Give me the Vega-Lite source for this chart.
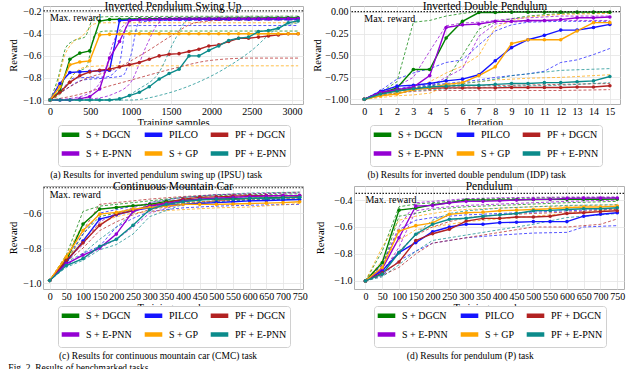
{
"$schema":"https://vega.github.io/schema/vega-lite/v6.json",
"padding":{"left":8,"top":0,"right":0,"bottom":0},
"background":"white",
"config":{
"font":"Liberation Serif",
"view":{"stroke":"#b0b0b0","strokeWidth":1},
"axis":{"labelFont":"Liberation Serif","labelFontSize":10,"titleFont":"Liberation Serif","titleFontSize":10.5,"titleFontWeight":"normal","ticks":false,"tickSize":0,"domain":false,"gridColor":"#e4e4e4","gridWidth":0.8,"labelColor":"#000","titleColor":"#000","labelPadding":2,"titlePadding":4,"labelOverlap":false,"labelFlush":false},
"title":{"font":"Liberation Serif","fontSize":11.5,"fontWeight":"normal","offset":-6,"color":"#000"},
"legend":{"labelFont":"Liberation Serif","labelFontSize":10,"labelColor":"#000","strokeColor":"#d0d0d0","fillColor":"white","cornerRadius":3,"padding":3,"columnPadding":3,"rowPadding":0,"gridAlign":"each","offset":0}
},
"datasets":{
"ipsu":[
{"m":"S + DGCN","s":"a","x":0,"y":-1},{"m":"S + DGCN","s":"a","x":123,"y":-0.92},{"m":"S + DGCN","s":"a","x":246,"y":-0.63},{"m":"S + DGCN","s":"a","x":369,"y":-0.575},{"m":"S + DGCN","s":"a","x":492,"y":-0.555},{"m":"S + DGCN","s":"a","x":615,"y":-0.285},{"m":"S + DGCN","s":"a","x":738,"y":-0.27},{"m":"S + DGCN","s":"a","x":861,"y":-0.268},{"m":"S + DGCN","s":"a","x":984,"y":-0.266},{"m":"S + DGCN","s":"a","x":1107,"y":-0.265},{"m":"S + DGCN","s":"a","x":1230,"y":-0.264},{"m":"S + DGCN","s":"a","x":1353,"y":-0.263},{"m":"S + DGCN","s":"a","x":1476,"y":-0.262},{"m":"S + DGCN","s":"a","x":1599,"y":-0.262},{"m":"S + DGCN","s":"a","x":1722,"y":-0.261},{"m":"S + DGCN","s":"a","x":1845,"y":-0.261},{"m":"S + DGCN","s":"a","x":1968,"y":-0.26},{"m":"S + DGCN","s":"a","x":2091,"y":-0.26},{"m":"S + DGCN","s":"a","x":2214,"y":-0.259},{"m":"S + DGCN","s":"a","x":2337,"y":-0.259},{"m":"S + DGCN","s":"a","x":2460,"y":-0.258},{"m":"S + DGCN","s":"a","x":2583,"y":-0.258},{"m":"S + DGCN","s":"a","x":2706,"y":-0.257},{"m":"S + DGCN","s":"a","x":2829,"y":-0.257},{"m":"S + DGCN","s":"a","x":2952,"y":-0.256},{"m":"S + DGCN","s":"a","x":3075,"y":-0.256},
{"m":"PILCO","s":"a","x":0,"y":-1},{"m":"PILCO","s":"a","x":123,"y":-0.85},{"m":"PILCO","s":"a","x":246,"y":-0.75},{"m":"PILCO","s":"a","x":369,"y":-0.745},{"m":"PILCO","s":"a","x":492,"y":-0.74},{"m":"PILCO","s":"a","x":615,"y":-0.735},{"m":"PILCO","s":"a","x":738,"y":-0.73},{"m":"PILCO","s":"a","x":861,"y":-0.28},{"m":"PILCO","s":"a","x":984,"y":-0.275},{"m":"PILCO","s":"a","x":1107,"y":-0.273},{"m":"PILCO","s":"a","x":1230,"y":-0.272},{"m":"PILCO","s":"a","x":1353,"y":-0.271},{"m":"PILCO","s":"a","x":1476,"y":-0.27},{"m":"PILCO","s":"a","x":1599,"y":-0.27},{"m":"PILCO","s":"a","x":1722,"y":-0.269},{"m":"PILCO","s":"a","x":1845,"y":-0.269},{"m":"PILCO","s":"a","x":1968,"y":-0.268},{"m":"PILCO","s":"a","x":2091,"y":-0.268},{"m":"PILCO","s":"a","x":2214,"y":-0.268},{"m":"PILCO","s":"a","x":2337,"y":-0.267},{"m":"PILCO","s":"a","x":2460,"y":-0.267},{"m":"PILCO","s":"a","x":2583,"y":-0.267},{"m":"PILCO","s":"a","x":2706,"y":-0.266},{"m":"PILCO","s":"a","x":2829,"y":-0.266},{"m":"PILCO","s":"a","x":2952,"y":-0.266},{"m":"PILCO","s":"a","x":3075,"y":-0.266},
{"m":"PF + DGCN","s":"a","x":0,"y":-1},{"m":"PF + DGCN","s":"a","x":123,"y":-0.93},{"m":"PF + DGCN","s":"a","x":246,"y":-0.84},{"m":"PF + DGCN","s":"a","x":369,"y":-0.78},{"m":"PF + DGCN","s":"a","x":492,"y":-0.745},{"m":"PF + DGCN","s":"a","x":615,"y":-0.73},{"m":"PF + DGCN","s":"a","x":738,"y":-0.72},{"m":"PF + DGCN","s":"a","x":861,"y":-0.7},{"m":"PF + DGCN","s":"a","x":984,"y":-0.68},{"m":"PF + DGCN","s":"a","x":1107,"y":-0.66},{"m":"PF + DGCN","s":"a","x":1230,"y":-0.63},{"m":"PF + DGCN","s":"a","x":1353,"y":-0.6},{"m":"PF + DGCN","s":"a","x":1476,"y":-0.585},{"m":"PF + DGCN","s":"a","x":1599,"y":-0.58},{"m":"PF + DGCN","s":"a","x":1722,"y":-0.56},{"m":"PF + DGCN","s":"a","x":1845,"y":-0.54},{"m":"PF + DGCN","s":"a","x":1968,"y":-0.51},{"m":"PF + DGCN","s":"a","x":2091,"y":-0.5},{"m":"PF + DGCN","s":"a","x":2214,"y":-0.47},{"m":"PF + DGCN","s":"a","x":2337,"y":-0.44},{"m":"PF + DGCN","s":"a","x":2460,"y":-0.44},{"m":"PF + DGCN","s":"a","x":2583,"y":-0.43},{"m":"PF + DGCN","s":"a","x":2706,"y":-0.42},{"m":"PF + DGCN","s":"a","x":2829,"y":-0.41},{"m":"PF + DGCN","s":"a","x":2952,"y":-0.4},{"m":"PF + DGCN","s":"a","x":3075,"y":-0.4},
{"m":"S + E-PNN","s":"a","x":0,"y":-1},{"m":"S + E-PNN","s":"a","x":123,"y":-1},{"m":"S + E-PNN","s":"a","x":246,"y":-1},{"m":"S + E-PNN","s":"a","x":369,"y":-0.99},{"m":"S + E-PNN","s":"a","x":492,"y":-0.97},{"m":"S + E-PNN","s":"a","x":615,"y":-0.9},{"m":"S + E-PNN","s":"a","x":738,"y":-0.62},{"m":"S + E-PNN","s":"a","x":861,"y":-0.47},{"m":"S + E-PNN","s":"a","x":984,"y":-0.28},{"m":"S + E-PNN","s":"a","x":1107,"y":-0.272},{"m":"S + E-PNN","s":"a","x":1230,"y":-0.27},{"m":"S + E-PNN","s":"a","x":1353,"y":-0.269},{"m":"S + E-PNN","s":"a","x":1476,"y":-0.268},{"m":"S + E-PNN","s":"a","x":1599,"y":-0.267},{"m":"S + E-PNN","s":"a","x":1722,"y":-0.266},{"m":"S + E-PNN","s":"a","x":1845,"y":-0.266},{"m":"S + E-PNN","s":"a","x":1968,"y":-0.265},{"m":"S + E-PNN","s":"a","x":2091,"y":-0.265},{"m":"S + E-PNN","s":"a","x":2214,"y":-0.264},{"m":"S + E-PNN","s":"a","x":2337,"y":-0.264},{"m":"S + E-PNN","s":"a","x":2460,"y":-0.263},{"m":"S + E-PNN","s":"a","x":2583,"y":-0.263},{"m":"S + E-PNN","s":"a","x":2706,"y":-0.263},{"m":"S + E-PNN","s":"a","x":2829,"y":-0.262},{"m":"S + E-PNN","s":"a","x":2952,"y":-0.262},{"m":"S + E-PNN","s":"a","x":3075,"y":-0.262},
{"m":"S + GP","s":"a","x":0,"y":-1},{"m":"S + GP","s":"a","x":123,"y":-0.88},{"m":"S + GP","s":"a","x":246,"y":-0.68},{"m":"S + GP","s":"a","x":369,"y":-0.655},{"m":"S + GP","s":"a","x":492,"y":-0.645},{"m":"S + GP","s":"a","x":615,"y":-0.41},{"m":"S + GP","s":"a","x":738,"y":-0.405},{"m":"S + GP","s":"a","x":861,"y":-0.402},{"m":"S + GP","s":"a","x":984,"y":-0.4},{"m":"S + GP","s":"a","x":1107,"y":-0.4},{"m":"S + GP","s":"a","x":1230,"y":-0.4},{"m":"S + GP","s":"a","x":1353,"y":-0.4},{"m":"S + GP","s":"a","x":1476,"y":-0.4},{"m":"S + GP","s":"a","x":1599,"y":-0.4},{"m":"S + GP","s":"a","x":1722,"y":-0.4},{"m":"S + GP","s":"a","x":1845,"y":-0.4},{"m":"S + GP","s":"a","x":1968,"y":-0.4},{"m":"S + GP","s":"a","x":2091,"y":-0.4},{"m":"S + GP","s":"a","x":2214,"y":-0.4},{"m":"S + GP","s":"a","x":2337,"y":-0.4},{"m":"S + GP","s":"a","x":2460,"y":-0.4},{"m":"S + GP","s":"a","x":2583,"y":-0.4},{"m":"S + GP","s":"a","x":2706,"y":-0.4},{"m":"S + GP","s":"a","x":2829,"y":-0.4},{"m":"S + GP","s":"a","x":2952,"y":-0.4},{"m":"S + GP","s":"a","x":3075,"y":-0.4},
{"m":"PF + E-PNN","s":"a","x":0,"y":-1},{"m":"PF + E-PNN","s":"a","x":123,"y":-1},{"m":"PF + E-PNN","s":"a","x":246,"y":-1},{"m":"PF + E-PNN","s":"a","x":369,"y":-1},{"m":"PF + E-PNN","s":"a","x":492,"y":-1},{"m":"PF + E-PNN","s":"a","x":615,"y":-1},{"m":"PF + E-PNN","s":"a","x":738,"y":-1},{"m":"PF + E-PNN","s":"a","x":861,"y":-0.99},{"m":"PF + E-PNN","s":"a","x":984,"y":-0.96},{"m":"PF + E-PNN","s":"a","x":1107,"y":-0.93},{"m":"PF + E-PNN","s":"a","x":1230,"y":-0.88},{"m":"PF + E-PNN","s":"a","x":1353,"y":-0.81},{"m":"PF + E-PNN","s":"a","x":1476,"y":-0.76},{"m":"PF + E-PNN","s":"a","x":1599,"y":-0.72},{"m":"PF + E-PNN","s":"a","x":1722,"y":-0.6},{"m":"PF + E-PNN","s":"a","x":1845,"y":-0.6},{"m":"PF + E-PNN","s":"a","x":1968,"y":-0.55},{"m":"PF + E-PNN","s":"a","x":2091,"y":-0.51},{"m":"PF + E-PNN","s":"a","x":2214,"y":-0.46},{"m":"PF + E-PNN","s":"a","x":2337,"y":-0.44},{"m":"PF + E-PNN","s":"a","x":2460,"y":-0.43},{"m":"PF + E-PNN","s":"a","x":2583,"y":-0.38},{"m":"PF + E-PNN","s":"a","x":2706,"y":-0.37},{"m":"PF + E-PNN","s":"a","x":2829,"y":-0.35},{"m":"PF + E-PNN","s":"a","x":2952,"y":-0.3},{"m":"PF + E-PNN","s":"a","x":3075,"y":-0.283},
{"m":"S + DGCN","s":"h","x":0,"y":-1},{"m":"S + DGCN","s":"h","x":100,"y":-0.8},{"m":"S + DGCN","s":"h","x":200,"y":-0.52},{"m":"S + DGCN","s":"h","x":300,"y":-0.46},{"m":"S + DGCN","s":"h","x":430,"y":-0.43},{"m":"S + DGCN","s":"h","x":540,"y":-0.26},{"m":"S + DGCN","s":"h","x":700,"y":-0.245},{"m":"S + DGCN","s":"h","x":1500,"y":-0.242},{"m":"S + DGCN","s":"h","x":3075,"y":-0.24},
{"m":"S + DGCN","s":"l","x":0,"y":-1},{"m":"S + DGCN","s":"l","x":150,"y":-0.93},{"m":"S + DGCN","s":"l","x":300,"y":-0.76},{"m":"S + DGCN","s":"l","x":450,"y":-0.7},{"m":"S + DGCN","s":"l","x":560,"y":-0.4},{"m":"S + DGCN","s":"l","x":700,"y":-0.375},{"m":"S + DGCN","s":"l","x":3075,"y":-0.375},
{"m":"PILCO","s":"h","x":0,"y":-1},{"m":"PILCO","s":"h","x":150,"y":-0.9},{"m":"PILCO","s":"h","x":300,"y":-0.8},{"m":"PILCO","s":"h","x":700,"y":-0.79},{"m":"PILCO","s":"h","x":850,"y":-0.7},{"m":"PILCO","s":"h","x":950,"y":-0.33},{"m":"PILCO","s":"h","x":1100,"y":-0.325},{"m":"PILCO","s":"h","x":3075,"y":-0.325},
{"m":"PILCO","s":"l","x":0,"y":-1},{"m":"PILCO","s":"l","x":200,"y":-0.9},{"m":"PILCO","s":"l","x":400,"y":-0.82},{"m":"PILCO","s":"l","x":700,"y":-0.8},{"m":"PILCO","s":"l","x":900,"y":-0.78},{"m":"PILCO","s":"l","x":1000,"y":-0.6},{"m":"PILCO","s":"l","x":1100,"y":-0.3},{"m":"PILCO","s":"l","x":1300,"y":-0.28},{"m":"PILCO","s":"l","x":3075,"y":-0.275},
{"m":"S + GP","s":"h","x":0,"y":-1},{"m":"S + GP","s":"h","x":80,"y":-0.88},{"m":"S + GP","s":"h","x":180,"y":-0.6},{"m":"S + GP","s":"h","x":280,"y":-0.48},{"m":"S + GP","s":"h","x":400,"y":-0.42},{"m":"S + GP","s":"h","x":550,"y":-0.31},{"m":"S + GP","s":"h","x":700,"y":-0.3},{"m":"S + GP","s":"h","x":3075,"y":-0.3},
{"m":"S + GP","s":"l","x":0,"y":-1},{"m":"S + GP","s":"l","x":150,"y":-0.92},{"m":"S + GP","s":"l","x":300,"y":-0.76},{"m":"S + GP","s":"l","x":450,"y":-0.7},{"m":"S + GP","s":"l","x":700,"y":-0.69},{"m":"S + GP","s":"l","x":3075,"y":-0.69},
{"m":"PF + DGCN","s":"h","x":0,"y":-1},{"m":"PF + DGCN","s":"h","x":200,"y":-0.9},{"m":"PF + DGCN","s":"h","x":400,"y":-0.82},{"m":"PF + DGCN","s":"h","x":800,"y":-0.72},{"m":"PF + DGCN","s":"h","x":1200,"y":-0.56},{"m":"PF + DGCN","s":"h","x":1500,"y":-0.42},{"m":"PF + DGCN","s":"h","x":1800,"y":-0.3},{"m":"PF + DGCN","s":"h","x":2200,"y":-0.275},{"m":"PF + DGCN","s":"h","x":3075,"y":-0.272},
{"m":"PF + DGCN","s":"l","x":0,"y":-1},{"m":"PF + DGCN","s":"l","x":300,"y":-0.96},{"m":"PF + DGCN","s":"l","x":600,"y":-0.9},{"m":"PF + DGCN","s":"l","x":1000,"y":-0.82},{"m":"PF + DGCN","s":"l","x":1500,"y":-0.72},{"m":"PF + DGCN","s":"l","x":2000,"y":-0.64},{"m":"PF + DGCN","s":"l","x":2500,"y":-0.62},{"m":"PF + DGCN","s":"l","x":3075,"y":-0.62},
{"m":"S + E-PNN","s":"h","x":0,"y":-1},{"m":"S + E-PNN","s":"h","x":300,"y":-0.98},{"m":"S + E-PNN","s":"h","x":500,"y":-0.93},{"m":"S + E-PNN","s":"h","x":650,"y":-0.8},{"m":"S + E-PNN","s":"h","x":800,"y":-0.45},{"m":"S + E-PNN","s":"h","x":950,"y":-0.3},{"m":"S + E-PNN","s":"h","x":1100,"y":-0.255},{"m":"S + E-PNN","s":"h","x":3075,"y":-0.25},
{"m":"S + E-PNN","s":"l","x":0,"y":-1},{"m":"S + E-PNN","s":"l","x":500,"y":-0.99},{"m":"S + E-PNN","s":"l","x":800,"y":-0.94},{"m":"S + E-PNN","s":"l","x":1000,"y":-0.84},{"m":"S + E-PNN","s":"l","x":1200,"y":-0.5},{"m":"S + E-PNN","s":"l","x":1350,"y":-0.3},{"m":"S + E-PNN","s":"l","x":1500,"y":-0.26},{"m":"S + E-PNN","s":"l","x":3075,"y":-0.255},
{"m":"PF + E-PNN","s":"h","x":0,"y":-1},{"m":"PF + E-PNN","s":"h","x":800,"y":-1},{"m":"PF + E-PNN","s":"h","x":1100,"y":-0.9},{"m":"PF + E-PNN","s":"h","x":1350,"y":-0.75},{"m":"PF + E-PNN","s":"h","x":1550,"y":-0.45},{"m":"PF + E-PNN","s":"h","x":1700,"y":-0.28},{"m":"PF + E-PNN","s":"h","x":2000,"y":-0.262},{"m":"PF + E-PNN","s":"h","x":3075,"y":-0.26},
{"m":"PF + E-PNN","s":"l","x":0,"y":-1},{"m":"PF + E-PNN","s":"l","x":1000,"y":-1},{"m":"PF + E-PNN","s":"l","x":1400,"y":-0.95},{"m":"PF + E-PNN","s":"l","x":1800,"y":-0.85},{"m":"PF + E-PNN","s":"l","x":2200,"y":-0.7},{"m":"PF + E-PNN","s":"l","x":2500,"y":-0.55},{"m":"PF + E-PNN","s":"l","x":2800,"y":-0.36},{"m":"PF + E-PNN","s":"l","x":3075,"y":-0.3}
],
"idp":[
{"m":"S + DGCN","s":"a","x":0,"y":-1},{"m":"S + DGCN","s":"a","x":1,"y":-0.93},{"m":"S + DGCN","s":"a","x":2,"y":-0.87},{"m":"S + DGCN","s":"a","x":3,"y":-0.66},{"m":"S + DGCN","s":"a","x":4,"y":-0.66},{"m":"S + DGCN","s":"a","x":5,"y":-0.3},{"m":"S + DGCN","s":"a","x":6,"y":-0.11},{"m":"S + DGCN","s":"a","x":7,"y":-0.01},{"m":"S + DGCN","s":"a","x":8,"y":-0.01},{"m":"S + DGCN","s":"a","x":9,"y":-0.005},{"m":"S + DGCN","s":"a","x":10,"y":-0.005},{"m":"S + DGCN","s":"a","x":11,"y":-0.005},{"m":"S + DGCN","s":"a","x":12,"y":-0.005},{"m":"S + DGCN","s":"a","x":13,"y":-0.005},{"m":"S + DGCN","s":"a","x":14,"y":-0.005},{"m":"S + DGCN","s":"a","x":15,"y":-0.005},
{"m":"PILCO","s":"a","x":0,"y":-1},{"m":"PILCO","s":"a","x":1,"y":-0.91},{"m":"PILCO","s":"a","x":2,"y":-0.85},{"m":"PILCO","s":"a","x":3,"y":-0.84},{"m":"PILCO","s":"a","x":4,"y":-0.82},{"m":"PILCO","s":"a","x":5,"y":-0.79},{"m":"PILCO","s":"a","x":6,"y":-0.77},{"m":"PILCO","s":"a","x":7,"y":-0.72},{"m":"PILCO","s":"a","x":8,"y":-0.56},{"m":"PILCO","s":"a","x":9,"y":-0.41},{"m":"PILCO","s":"a","x":10,"y":-0.32},{"m":"PILCO","s":"a","x":11,"y":-0.27},{"m":"PILCO","s":"a","x":12,"y":-0.21},{"m":"PILCO","s":"a","x":13,"y":-0.21},{"m":"PILCO","s":"a","x":14,"y":-0.18},{"m":"PILCO","s":"a","x":15,"y":-0.145},
{"m":"PF + DGCN","s":"a","x":0,"y":-1},{"m":"PF + DGCN","s":"a","x":1,"y":-0.93},{"m":"PF + DGCN","s":"a","x":2,"y":-0.9},{"m":"PF + DGCN","s":"a","x":3,"y":-0.88},{"m":"PF + DGCN","s":"a","x":4,"y":-0.875},{"m":"PF + DGCN","s":"a","x":5,"y":-0.87},{"m":"PF + DGCN","s":"a","x":6,"y":-0.87},{"m":"PF + DGCN","s":"a","x":7,"y":-0.87},{"m":"PF + DGCN","s":"a","x":8,"y":-0.87},{"m":"PF + DGCN","s":"a","x":9,"y":-0.865},{"m":"PF + DGCN","s":"a","x":10,"y":-0.865},{"m":"PF + DGCN","s":"a","x":11,"y":-0.865},{"m":"PF + DGCN","s":"a","x":12,"y":-0.865},{"m":"PF + DGCN","s":"a","x":13,"y":-0.86},{"m":"PF + DGCN","s":"a","x":14,"y":-0.86},{"m":"PF + DGCN","s":"a","x":15,"y":-0.845},
{"m":"S + E-PNN","s":"a","x":0,"y":-1},{"m":"S + E-PNN","s":"a","x":1,"y":-0.92},{"m":"S + E-PNN","s":"a","x":2,"y":-0.89},{"m":"S + E-PNN","s":"a","x":3,"y":-0.86},{"m":"S + E-PNN","s":"a","x":4,"y":-0.73},{"m":"S + E-PNN","s":"a","x":5,"y":-0.18},{"m":"S + E-PNN","s":"a","x":6,"y":-0.15},{"m":"S + E-PNN","s":"a","x":7,"y":-0.14},{"m":"S + E-PNN","s":"a","x":8,"y":-0.11},{"m":"S + E-PNN","s":"a","x":9,"y":-0.11},{"m":"S + E-PNN","s":"a","x":10,"y":-0.1},{"m":"S + E-PNN","s":"a","x":11,"y":-0.1},{"m":"S + E-PNN","s":"a","x":12,"y":-0.09},{"m":"S + E-PNN","s":"a","x":13,"y":-0.07},{"m":"S + E-PNN","s":"a","x":14,"y":-0.07},{"m":"S + E-PNN","s":"a","x":15,"y":-0.06},
{"m":"S + GP","s":"a","x":0,"y":-1},{"m":"S + GP","s":"a","x":1,"y":-0.96},{"m":"S + GP","s":"a","x":2,"y":-0.94},{"m":"S + GP","s":"a","x":3,"y":-0.89},{"m":"S + GP","s":"a","x":4,"y":-0.87},{"m":"S + GP","s":"a","x":5,"y":-0.83},{"m":"S + GP","s":"a","x":6,"y":-0.81},{"m":"S + GP","s":"a","x":7,"y":-0.73},{"m":"S + GP","s":"a","x":8,"y":-0.63},{"m":"S + GP","s":"a","x":9,"y":-0.365},{"m":"S + GP","s":"a","x":10,"y":-0.32},{"m":"S + GP","s":"a","x":11,"y":-0.32},{"m":"S + GP","s":"a","x":12,"y":-0.32},{"m":"S + GP","s":"a","x":13,"y":-0.22},{"m":"S + GP","s":"a","x":14,"y":-0.125},{"m":"S + GP","s":"a","x":15,"y":-0.125},
{"m":"PF + E-PNN","s":"a","x":0,"y":-1},{"m":"PF + E-PNN","s":"a","x":1,"y":-0.94},{"m":"PF + E-PNN","s":"a","x":2,"y":-0.905},{"m":"PF + E-PNN","s":"a","x":3,"y":-0.88},{"m":"PF + E-PNN","s":"a","x":4,"y":-0.86},{"m":"PF + E-PNN","s":"a","x":5,"y":-0.85},{"m":"PF + E-PNN","s":"a","x":6,"y":-0.84},{"m":"PF + E-PNN","s":"a","x":7,"y":-0.84},{"m":"PF + E-PNN","s":"a","x":8,"y":-0.83},{"m":"PF + E-PNN","s":"a","x":9,"y":-0.82},{"m":"PF + E-PNN","s":"a","x":10,"y":-0.82},{"m":"PF + E-PNN","s":"a","x":11,"y":-0.81},{"m":"PF + E-PNN","s":"a","x":12,"y":-0.81},{"m":"PF + E-PNN","s":"a","x":13,"y":-0.8},{"m":"PF + E-PNN","s":"a","x":14,"y":-0.79},{"m":"PF + E-PNN","s":"a","x":15,"y":-0.74},
{"m":"S + DGCN","s":"h","x":0,"y":-1},{"m":"S + DGCN","s":"h","x":1,"y":-0.92},{"m":"S + DGCN","s":"h","x":2,"y":-0.8},{"m":"S + DGCN","s":"h","x":3,"y":-0.12},{"m":"S + DGCN","s":"h","x":4,"y":-0.1},{"m":"S + DGCN","s":"h","x":5,"y":-0.05},{"m":"S + DGCN","s":"h","x":6,"y":-0.02},{"m":"S + DGCN","s":"h","x":7,"y":0},{"m":"S + DGCN","s":"h","x":15,"y":0},
{"m":"S + DGCN","s":"l","x":0,"y":-1},{"m":"S + DGCN","s":"l","x":1,"y":-0.95},{"m":"S + DGCN","s":"l","x":2,"y":-0.9},{"m":"S + DGCN","s":"l","x":3,"y":-0.87},{"m":"S + DGCN","s":"l","x":4,"y":-0.86},{"m":"S + DGCN","s":"l","x":5,"y":-0.78},{"m":"S + DGCN","s":"l","x":6,"y":-0.5},{"m":"S + DGCN","s":"l","x":7,"y":-0.2},{"m":"S + DGCN","s":"l","x":8,"y":-0.12},{"m":"S + DGCN","s":"l","x":9,"y":-0.08},{"m":"S + DGCN","s":"l","x":10,"y":-0.05},{"m":"S + DGCN","s":"l","x":12,"y":-0.02},{"m":"S + DGCN","s":"l","x":15,"y":-0.01},
{"m":"PILCO","s":"h","x":0,"y":-1},{"m":"PILCO","s":"h","x":1,"y":-0.9},{"m":"PILCO","s":"h","x":2,"y":-0.77},{"m":"PILCO","s":"h","x":3,"y":-0.7},{"m":"PILCO","s":"h","x":4,"y":-0.65},{"m":"PILCO","s":"h","x":5,"y":-0.58},{"m":"PILCO","s":"h","x":6,"y":-0.55},{"m":"PILCO","s":"h","x":7,"y":-0.38},{"m":"PILCO","s":"h","x":8,"y":-0.22},{"m":"PILCO","s":"h","x":9,"y":-0.15},{"m":"PILCO","s":"h","x":10,"y":-0.12},{"m":"PILCO","s":"h","x":12,"y":-0.11},{"m":"PILCO","s":"h","x":15,"y":-0.11},
{"m":"PILCO","s":"l","x":0,"y":-1},{"m":"PILCO","s":"l","x":1,"y":-0.93},{"m":"PILCO","s":"l","x":2,"y":-0.88},{"m":"PILCO","s":"l","x":3,"y":-0.85},{"m":"PILCO","s":"l","x":4,"y":-0.84},{"m":"PILCO","s":"l","x":5,"y":-0.82},{"m":"PILCO","s":"l","x":6,"y":-0.8},{"m":"PILCO","s":"l","x":7,"y":-0.78},{"m":"PILCO","s":"l","x":8,"y":-0.75},{"m":"PILCO","s":"l","x":9,"y":-0.73},{"m":"PILCO","s":"l","x":10,"y":-0.71},{"m":"PILCO","s":"l","x":11,"y":-0.68},{"m":"PILCO","s":"l","x":12,"y":-0.58},{"m":"PILCO","s":"l","x":13,"y":-0.55},{"m":"PILCO","s":"l","x":14,"y":-0.49},{"m":"PILCO","s":"l","x":15,"y":-0.42},
{"m":"PF + DGCN","s":"h","x":0,"y":-1},{"m":"PF + DGCN","s":"h","x":1,"y":-0.92},{"m":"PF + DGCN","s":"h","x":2,"y":-0.89},{"m":"PF + DGCN","s":"h","x":3,"y":-0.87},{"m":"PF + DGCN","s":"h","x":4,"y":-0.86},{"m":"PF + DGCN","s":"h","x":6,"y":-0.85},{"m":"PF + DGCN","s":"h","x":9,"y":-0.84},{"m":"PF + DGCN","s":"h","x":12,"y":-0.83},{"m":"PF + DGCN","s":"h","x":15,"y":-0.82},
{"m":"PF + DGCN","s":"l","x":0,"y":-1},{"m":"PF + DGCN","s":"l","x":1,"y":-0.95},{"m":"PF + DGCN","s":"l","x":2,"y":-0.93},{"m":"PF + DGCN","s":"l","x":3,"y":-0.91},{"m":"PF + DGCN","s":"l","x":4,"y":-0.9},{"m":"PF + DGCN","s":"l","x":12,"y":-0.9},{"m":"PF + DGCN","s":"l","x":15,"y":-0.89},
{"m":"S + E-PNN","s":"h","x":0,"y":-1},{"m":"S + E-PNN","s":"h","x":1,"y":-0.92},{"m":"S + E-PNN","s":"h","x":2,"y":-0.85},{"m":"S + E-PNN","s":"h","x":3,"y":-0.75},{"m":"S + E-PNN","s":"h","x":4,"y":-0.45},{"m":"S + E-PNN","s":"h","x":5,"y":-0.16},{"m":"S + E-PNN","s":"h","x":6,"y":-0.13},{"m":"S + E-PNN","s":"h","x":7,"y":-0.12},{"m":"S + E-PNN","s":"h","x":8,"y":-0.1},{"m":"S + E-PNN","s":"h","x":9,"y":-0.08},{"m":"S + E-PNN","s":"h","x":10,"y":-0.07},{"m":"S + E-PNN","s":"h","x":12,"y":-0.05},{"m":"S + E-PNN","s":"h","x":15,"y":-0.05},
{"m":"S + E-PNN","s":"l","x":0,"y":-1},{"m":"S + E-PNN","s":"l","x":1,"y":-0.95},{"m":"S + E-PNN","s":"l","x":2,"y":-0.9},{"m":"S + E-PNN","s":"l","x":3,"y":-0.87},{"m":"S + E-PNN","s":"l","x":4,"y":-0.85},{"m":"S + E-PNN","s":"l","x":5,"y":-0.75},{"m":"S + E-PNN","s":"l","x":6,"y":-0.65},{"m":"S + E-PNN","s":"l","x":7,"y":-0.28},{"m":"S + E-PNN","s":"l","x":8,"y":-0.14},{"m":"S + E-PNN","s":"l","x":9,"y":-0.12},{"m":"S + E-PNN","s":"l","x":10,"y":-0.11},{"m":"S + E-PNN","s":"l","x":12,"y":-0.1},{"m":"S + E-PNN","s":"l","x":15,"y":-0.1},
{"m":"S + GP","s":"h","x":0,"y":-1},{"m":"S + GP","s":"h","x":1,"y":-0.96},{"m":"S + GP","s":"h","x":2,"y":-0.92},{"m":"S + GP","s":"h","x":3,"y":-0.88},{"m":"S + GP","s":"h","x":4,"y":-0.8},{"m":"S + GP","s":"h","x":5,"y":-0.7},{"m":"S + GP","s":"h","x":6,"y":-0.62},{"m":"S + GP","s":"h","x":7,"y":-0.5},{"m":"S + GP","s":"h","x":8,"y":-0.18},{"m":"S + GP","s":"h","x":9,"y":-0.1},{"m":"S + GP","s":"h","x":10,"y":-0.06},{"m":"S + GP","s":"h","x":12,"y":-0.03},{"m":"S + GP","s":"h","x":15,"y":-0.02},
{"m":"S + GP","s":"l","x":0,"y":-1},{"m":"S + GP","s":"l","x":1,"y":-0.98},{"m":"S + GP","s":"l","x":2,"y":-0.96},{"m":"S + GP","s":"l","x":3,"y":-0.95},{"m":"S + GP","s":"l","x":4,"y":-0.93},{"m":"S + GP","s":"l","x":5,"y":-0.85},{"m":"S + GP","s":"l","x":6,"y":-0.82},{"m":"S + GP","s":"l","x":7,"y":-0.8},{"m":"S + GP","s":"l","x":8,"y":-0.78},{"m":"S + GP","s":"l","x":9,"y":-0.77},{"m":"S + GP","s":"l","x":10,"y":-0.76},{"m":"S + GP","s":"l","x":12,"y":-0.75},{"m":"S + GP","s":"l","x":15,"y":-0.72},
{"m":"PF + E-PNN","s":"h","x":0,"y":-1},{"m":"PF + E-PNN","s":"h","x":1,"y":-0.93},{"m":"PF + E-PNN","s":"h","x":2,"y":-0.89},{"m":"PF + E-PNN","s":"h","x":3,"y":-0.86},{"m":"PF + E-PNN","s":"h","x":4,"y":-0.85},{"m":"PF + E-PNN","s":"h","x":5,"y":-0.83},{"m":"PF + E-PNN","s":"h","x":6,"y":-0.82},{"m":"PF + E-PNN","s":"h","x":7,"y":-0.8},{"m":"PF + E-PNN","s":"h","x":8,"y":-0.77},{"m":"PF + E-PNN","s":"h","x":9,"y":-0.73},{"m":"PF + E-PNN","s":"h","x":10,"y":-0.71},{"m":"PF + E-PNN","s":"h","x":12,"y":-0.67},{"m":"PF + E-PNN","s":"h","x":15,"y":-0.65},
{"m":"PF + E-PNN","s":"l","x":0,"y":-1},{"m":"PF + E-PNN","s":"l","x":1,"y":-0.96},{"m":"PF + E-PNN","s":"l","x":2,"y":-0.93},{"m":"PF + E-PNN","s":"l","x":3,"y":-0.9},{"m":"PF + E-PNN","s":"l","x":4,"y":-0.89},{"m":"PF + E-PNN","s":"l","x":5,"y":-0.88},{"m":"PF + E-PNN","s":"l","x":7,"y":-0.87},{"m":"PF + E-PNN","s":"l","x":9,"y":-0.85},{"m":"PF + E-PNN","s":"l","x":12,"y":-0.84},{"m":"PF + E-PNN","s":"l","x":15,"y":-0.81}
],
"cmc":[
{"m":"S + DGCN","s":"a","x":0,"y":-0.985},{"m":"S + DGCN","s":"a","x":50,"y":-0.87},{"m":"S + DGCN","s":"a","x":100,"y":-0.663},{"m":"S + DGCN","s":"a","x":150,"y":-0.577},{"m":"S + DGCN","s":"a","x":200,"y":-0.568},{"m":"S + DGCN","s":"a","x":250,"y":-0.558},{"m":"S + DGCN","s":"a","x":300,"y":-0.55},{"m":"S + DGCN","s":"a","x":350,"y":-0.533},{"m":"S + DGCN","s":"a","x":400,"y":-0.526},{"m":"S + DGCN","s":"a","x":450,"y":-0.52},{"m":"S + DGCN","s":"a","x":500,"y":-0.52},{"m":"S + DGCN","s":"a","x":550,"y":-0.518},{"m":"S + DGCN","s":"a","x":600,"y":-0.516},{"m":"S + DGCN","s":"a","x":650,"y":-0.514},{"m":"S + DGCN","s":"a","x":700,"y":-0.51},{"m":"S + DGCN","s":"a","x":750,"y":-0.508},
{"m":"PILCO","s":"a","x":0,"y":-0.985},{"m":"PILCO","s":"a","x":50,"y":-0.88},{"m":"PILCO","s":"a","x":100,"y":-0.76},{"m":"PILCO","s":"a","x":150,"y":-0.634},{"m":"PILCO","s":"a","x":200,"y":-0.61},{"m":"PILCO","s":"a","x":250,"y":-0.585},{"m":"PILCO","s":"a","x":300,"y":-0.57},{"m":"PILCO","s":"a","x":350,"y":-0.555},{"m":"PILCO","s":"a","x":400,"y":-0.55},{"m":"PILCO","s":"a","x":450,"y":-0.545},{"m":"PILCO","s":"a","x":500,"y":-0.54},{"m":"PILCO","s":"a","x":550,"y":-0.535},{"m":"PILCO","s":"a","x":600,"y":-0.53},{"m":"PILCO","s":"a","x":650,"y":-0.528},{"m":"PILCO","s":"a","x":700,"y":-0.525},{"m":"PILCO","s":"a","x":750,"y":-0.522},
{"m":"PF + DGCN","s":"a","x":0,"y":-0.985},{"m":"PF + DGCN","s":"a","x":50,"y":-0.87},{"m":"PF + DGCN","s":"a","x":100,"y":-0.77},{"m":"PF + DGCN","s":"a","x":150,"y":-0.67},{"m":"PF + DGCN","s":"a","x":200,"y":-0.606},{"m":"PF + DGCN","s":"a","x":250,"y":-0.587},{"m":"PF + DGCN","s":"a","x":300,"y":-0.558},{"m":"PF + DGCN","s":"a","x":350,"y":-0.54},{"m":"PF + DGCN","s":"a","x":400,"y":-0.52},{"m":"PF + DGCN","s":"a","x":450,"y":-0.51},{"m":"PF + DGCN","s":"a","x":500,"y":-0.507},{"m":"PF + DGCN","s":"a","x":550,"y":-0.503},{"m":"PF + DGCN","s":"a","x":600,"y":-0.5},{"m":"PF + DGCN","s":"a","x":650,"y":-0.5},{"m":"PF + DGCN","s":"a","x":700,"y":-0.5},{"m":"PF + DGCN","s":"a","x":750,"y":-0.5},
{"m":"S + E-PNN","s":"a","x":0,"y":-0.985},{"m":"S + E-PNN","s":"a","x":50,"y":-0.89},{"m":"S + E-PNN","s":"a","x":100,"y":-0.84},{"m":"S + E-PNN","s":"a","x":150,"y":-0.8},{"m":"S + E-PNN","s":"a","x":200,"y":-0.72},{"m":"S + E-PNN","s":"a","x":250,"y":-0.59},{"m":"S + E-PNN","s":"a","x":300,"y":-0.56},{"m":"S + E-PNN","s":"a","x":350,"y":-0.545},{"m":"S + E-PNN","s":"a","x":400,"y":-0.53},{"m":"S + E-PNN","s":"a","x":450,"y":-0.52},{"m":"S + E-PNN","s":"a","x":500,"y":-0.515},{"m":"S + E-PNN","s":"a","x":550,"y":-0.51},{"m":"S + E-PNN","s":"a","x":600,"y":-0.505},{"m":"S + E-PNN","s":"a","x":650,"y":-0.502},{"m":"S + E-PNN","s":"a","x":700,"y":-0.5},{"m":"S + E-PNN","s":"a","x":750,"y":-0.5},
{"m":"S + GP","s":"a","x":0,"y":-0.985},{"m":"S + GP","s":"a","x":50,"y":-0.85},{"m":"S + GP","s":"a","x":100,"y":-0.7},{"m":"S + GP","s":"a","x":150,"y":-0.606},{"m":"S + GP","s":"a","x":200,"y":-0.596},{"m":"S + GP","s":"a","x":250,"y":-0.577},{"m":"S + GP","s":"a","x":300,"y":-0.568},{"m":"S + GP","s":"a","x":350,"y":-0.56},{"m":"S + GP","s":"a","x":400,"y":-0.55},{"m":"S + GP","s":"a","x":450,"y":-0.55},{"m":"S + GP","s":"a","x":500,"y":-0.55},{"m":"S + GP","s":"a","x":550,"y":-0.548},{"m":"S + GP","s":"a","x":600,"y":-0.545},{"m":"S + GP","s":"a","x":650,"y":-0.543},{"m":"S + GP","s":"a","x":700,"y":-0.54},{"m":"S + GP","s":"a","x":750,"y":-0.535},
{"m":"PF + E-PNN","s":"a","x":0,"y":-0.985},{"m":"PF + E-PNN","s":"a","x":50,"y":-0.9},{"m":"PF + E-PNN","s":"a","x":100,"y":-0.86},{"m":"PF + E-PNN","s":"a","x":150,"y":-0.79},{"m":"PF + E-PNN","s":"a","x":200,"y":-0.75},{"m":"PF + E-PNN","s":"a","x":250,"y":-0.67},{"m":"PF + E-PNN","s":"a","x":300,"y":-0.58},{"m":"PF + E-PNN","s":"a","x":350,"y":-0.55},{"m":"PF + E-PNN","s":"a","x":400,"y":-0.535},{"m":"PF + E-PNN","s":"a","x":450,"y":-0.525},{"m":"PF + E-PNN","s":"a","x":500,"y":-0.52},{"m":"PF + E-PNN","s":"a","x":550,"y":-0.52},{"m":"PF + E-PNN","s":"a","x":600,"y":-0.515},{"m":"PF + E-PNN","s":"a","x":650,"y":-0.515},{"m":"PF + E-PNN","s":"a","x":700,"y":-0.513},{"m":"PF + E-PNN","s":"a","x":750,"y":-0.51},
{"m":"S + DGCN","s":"h","x":0,"y":-0.985},{"m":"S + DGCN","s":"h","x":50,"y":-0.84},{"m":"S + DGCN","s":"h","x":100,"y":-0.59},{"m":"S + DGCN","s":"h","x":150,"y":-0.56},{"m":"S + DGCN","s":"h","x":200,"y":-0.55},{"m":"S + DGCN","s":"h","x":250,"y":-0.54},{"m":"S + DGCN","s":"h","x":300,"y":-0.53},{"m":"S + DGCN","s":"h","x":400,"y":-0.51},{"m":"S + DGCN","s":"h","x":500,"y":-0.5},{"m":"S + DGCN","s":"h","x":600,"y":-0.495},{"m":"S + DGCN","s":"h","x":750,"y":-0.49},
{"m":"S + DGCN","s":"l","x":0,"y":-0.985},{"m":"S + DGCN","s":"l","x":50,"y":-0.88},{"m":"S + DGCN","s":"l","x":100,"y":-0.72},{"m":"S + DGCN","s":"l","x":150,"y":-0.62},{"m":"S + DGCN","s":"l","x":200,"y":-0.6},{"m":"S + DGCN","s":"l","x":250,"y":-0.58},{"m":"S + DGCN","s":"l","x":300,"y":-0.56},{"m":"S + DGCN","s":"l","x":400,"y":-0.54},{"m":"S + DGCN","s":"l","x":500,"y":-0.53},{"m":"S + DGCN","s":"l","x":600,"y":-0.525},{"m":"S + DGCN","s":"l","x":750,"y":-0.52},
{"m":"PILCO","s":"h","x":0,"y":-0.985},{"m":"PILCO","s":"h","x":50,"y":-0.86},{"m":"PILCO","s":"h","x":100,"y":-0.72},{"m":"PILCO","s":"h","x":150,"y":-0.6},{"m":"PILCO","s":"h","x":200,"y":-0.58},{"m":"PILCO","s":"h","x":250,"y":-0.56},{"m":"PILCO","s":"h","x":300,"y":-0.55},{"m":"PILCO","s":"h","x":400,"y":-0.53},{"m":"PILCO","s":"h","x":500,"y":-0.515},{"m":"PILCO","s":"h","x":600,"y":-0.505},{"m":"PILCO","s":"h","x":750,"y":-0.5},
{"m":"PILCO","s":"l","x":0,"y":-0.985},{"m":"PILCO","s":"l","x":50,"y":-0.9},{"m":"PILCO","s":"l","x":100,"y":-0.83},{"m":"PILCO","s":"l","x":150,"y":-0.79},{"m":"PILCO","s":"l","x":200,"y":-0.68},{"m":"PILCO","s":"l","x":250,"y":-0.63},{"m":"PILCO","s":"l","x":300,"y":-0.59},{"m":"PILCO","s":"l","x":400,"y":-0.57},{"m":"PILCO","s":"l","x":500,"y":-0.56},{"m":"PILCO","s":"l","x":600,"y":-0.555},{"m":"PILCO","s":"l","x":750,"y":-0.55},
{"m":"PF + DGCN","s":"h","x":0,"y":-0.985},{"m":"PF + DGCN","s":"h","x":50,"y":-0.85},{"m":"PF + DGCN","s":"h","x":100,"y":-0.7},{"m":"PF + DGCN","s":"h","x":150,"y":-0.55},{"m":"PF + DGCN","s":"h","x":200,"y":-0.54},{"m":"PF + DGCN","s":"h","x":250,"y":-0.53},{"m":"PF + DGCN","s":"h","x":300,"y":-0.52},{"m":"PF + DGCN","s":"h","x":400,"y":-0.505},{"m":"PF + DGCN","s":"h","x":500,"y":-0.495},{"m":"PF + DGCN","s":"h","x":600,"y":-0.49},{"m":"PF + DGCN","s":"h","x":750,"y":-0.48},
{"m":"PF + DGCN","s":"l","x":0,"y":-0.985},{"m":"PF + DGCN","s":"l","x":50,"y":-0.88},{"m":"PF + DGCN","s":"l","x":100,"y":-0.8},{"m":"PF + DGCN","s":"l","x":150,"y":-0.7},{"m":"PF + DGCN","s":"l","x":200,"y":-0.65},{"m":"PF + DGCN","s":"l","x":250,"y":-0.61},{"m":"PF + DGCN","s":"l","x":300,"y":-0.58},{"m":"PF + DGCN","s":"l","x":400,"y":-0.55},{"m":"PF + DGCN","s":"l","x":500,"y":-0.53},{"m":"PF + DGCN","s":"l","x":600,"y":-0.515},{"m":"PF + DGCN","s":"l","x":750,"y":-0.51},
{"m":"S + E-PNN","s":"h","x":0,"y":-0.985},{"m":"S + E-PNN","s":"h","x":50,"y":-0.87},{"m":"S + E-PNN","s":"h","x":100,"y":-0.78},{"m":"S + E-PNN","s":"h","x":150,"y":-0.65},{"m":"S + E-PNN","s":"h","x":200,"y":-0.6},{"m":"S + E-PNN","s":"h","x":250,"y":-0.57},{"m":"S + E-PNN","s":"h","x":300,"y":-0.54},{"m":"S + E-PNN","s":"h","x":400,"y":-0.51},{"m":"S + E-PNN","s":"h","x":500,"y":-0.495},{"m":"S + E-PNN","s":"h","x":600,"y":-0.49},{"m":"S + E-PNN","s":"h","x":750,"y":-0.485},
{"m":"S + E-PNN","s":"l","x":0,"y":-0.985},{"m":"S + E-PNN","s":"l","x":50,"y":-0.9},{"m":"S + E-PNN","s":"l","x":100,"y":-0.86},{"m":"S + E-PNN","s":"l","x":150,"y":-0.8},{"m":"S + E-PNN","s":"l","x":200,"y":-0.75},{"m":"S + E-PNN","s":"l","x":250,"y":-0.68},{"m":"S + E-PNN","s":"l","x":300,"y":-0.6},{"m":"S + E-PNN","s":"l","x":400,"y":-0.545},{"m":"S + E-PNN","s":"l","x":500,"y":-0.53},{"m":"S + E-PNN","s":"l","x":600,"y":-0.52},{"m":"S + E-PNN","s":"l","x":750,"y":-0.515},
{"m":"S + GP","s":"h","x":0,"y":-0.985},{"m":"S + GP","s":"h","x":50,"y":-0.84},{"m":"S + GP","s":"h","x":100,"y":-0.66},{"m":"S + GP","s":"h","x":150,"y":-0.58},{"m":"S + GP","s":"h","x":200,"y":-0.565},{"m":"S + GP","s":"h","x":250,"y":-0.555},{"m":"S + GP","s":"h","x":300,"y":-0.55},{"m":"S + GP","s":"h","x":400,"y":-0.54},{"m":"S + GP","s":"h","x":500,"y":-0.53},{"m":"S + GP","s":"h","x":600,"y":-0.52},{"m":"S + GP","s":"h","x":750,"y":-0.515},
{"m":"S + GP","s":"l","x":0,"y":-0.985},{"m":"S + GP","s":"l","x":50,"y":-0.86},{"m":"S + GP","s":"l","x":100,"y":-0.75},{"m":"S + GP","s":"l","x":150,"y":-0.66},{"m":"S + GP","s":"l","x":200,"y":-0.62},{"m":"S + GP","s":"l","x":250,"y":-0.6},{"m":"S + GP","s":"l","x":300,"y":-0.59},{"m":"S + GP","s":"l","x":400,"y":-0.58},{"m":"S + GP","s":"l","x":500,"y":-0.57},{"m":"S + GP","s":"l","x":600,"y":-0.565},{"m":"S + GP","s":"l","x":750,"y":-0.545},
{"m":"PF + E-PNN","s":"h","x":0,"y":-0.985},{"m":"PF + E-PNN","s":"h","x":50,"y":-0.88},{"m":"PF + E-PNN","s":"h","x":100,"y":-0.83},{"m":"PF + E-PNN","s":"h","x":150,"y":-0.75},{"m":"PF + E-PNN","s":"h","x":200,"y":-0.68},{"m":"PF + E-PNN","s":"h","x":250,"y":-0.6},{"m":"PF + E-PNN","s":"h","x":300,"y":-0.54},{"m":"PF + E-PNN","s":"h","x":400,"y":-0.51},{"m":"PF + E-PNN","s":"h","x":500,"y":-0.495},{"m":"PF + E-PNN","s":"h","x":600,"y":-0.485},{"m":"PF + E-PNN","s":"h","x":750,"y":-0.48},
{"m":"PF + E-PNN","s":"l","x":0,"y":-0.985},{"m":"PF + E-PNN","s":"l","x":50,"y":-0.91},{"m":"PF + E-PNN","s":"l","x":100,"y":-0.87},{"m":"PF + E-PNN","s":"l","x":150,"y":-0.81},{"m":"PF + E-PNN","s":"l","x":200,"y":-0.78},{"m":"PF + E-PNN","s":"l","x":250,"y":-0.72},{"m":"PF + E-PNN","s":"l","x":300,"y":-0.62},{"m":"PF + E-PNN","s":"l","x":400,"y":-0.55},{"m":"PF + E-PNN","s":"l","x":500,"y":-0.535},{"m":"PF + E-PNN","s":"l","x":600,"y":-0.525},{"m":"PF + E-PNN","s":"l","x":750,"y":-0.52}
],
"pend":[
{"m":"S + DGCN","s":"a","x":0,"y":-1},{"m":"S + DGCN","s":"a","x":50,"y":-0.865},{"m":"S + DGCN","s":"a","x":100,"y":-0.475},{"m":"S + DGCN","s":"a","x":150,"y":-0.46},{"m":"S + DGCN","s":"a","x":200,"y":-0.435},{"m":"S + DGCN","s":"a","x":250,"y":-0.42},{"m":"S + DGCN","s":"a","x":300,"y":-0.4},{"m":"S + DGCN","s":"a","x":350,"y":-0.4},{"m":"S + DGCN","s":"a","x":400,"y":-0.4},{"m":"S + DGCN","s":"a","x":450,"y":-0.398},{"m":"S + DGCN","s":"a","x":500,"y":-0.396},{"m":"S + DGCN","s":"a","x":550,"y":-0.395},{"m":"S + DGCN","s":"a","x":600,"y":-0.395},{"m":"S + DGCN","s":"a","x":650,"y":-0.394},{"m":"S + DGCN","s":"a","x":700,"y":-0.394},{"m":"S + DGCN","s":"a","x":750,"y":-0.393},
{"m":"PILCO","s":"a","x":0,"y":-1},{"m":"PILCO","s":"a","x":50,"y":-0.926},{"m":"PILCO","s":"a","x":100,"y":-0.79},{"m":"PILCO","s":"a","x":150,"y":-0.716},{"m":"PILCO","s":"a","x":200,"y":-0.635},{"m":"PILCO","s":"a","x":250,"y":-0.6},{"m":"PILCO","s":"a","x":300,"y":-0.58},{"m":"PILCO","s":"a","x":350,"y":-0.58},{"m":"PILCO","s":"a","x":400,"y":-0.568},{"m":"PILCO","s":"a","x":450,"y":-0.565},{"m":"PILCO","s":"a","x":500,"y":-0.56},{"m":"PILCO","s":"a","x":550,"y":-0.56},{"m":"PILCO","s":"a","x":600,"y":-0.56},{"m":"PILCO","s":"a","x":650,"y":-0.52},{"m":"PILCO","s":"a","x":700,"y":-0.506},{"m":"PILCO","s":"a","x":750,"y":-0.494},
{"m":"PF + DGCN","s":"a","x":0,"y":-1},{"m":"PF + DGCN","s":"a","x":50,"y":-0.94},{"m":"PF + DGCN","s":"a","x":100,"y":-0.86},{"m":"PF + DGCN","s":"a","x":150,"y":-0.7},{"m":"PF + DGCN","s":"a","x":200,"y":-0.65},{"m":"PF + DGCN","s":"a","x":250,"y":-0.617},{"m":"PF + DGCN","s":"a","x":300,"y":-0.556},{"m":"PF + DGCN","s":"a","x":350,"y":-0.536},{"m":"PF + DGCN","s":"a","x":400,"y":-0.536},{"m":"PF + DGCN","s":"a","x":450,"y":-0.526},{"m":"PF + DGCN","s":"a","x":500,"y":-0.526},{"m":"PF + DGCN","s":"a","x":550,"y":-0.52},{"m":"PF + DGCN","s":"a","x":600,"y":-0.5},{"m":"PF + DGCN","s":"a","x":650,"y":-0.494},{"m":"PF + DGCN","s":"a","x":700,"y":-0.486},{"m":"PF + DGCN","s":"a","x":750,"y":-0.48},
{"m":"S + E-PNN","s":"a","x":0,"y":-1},{"m":"S + E-PNN","s":"a","x":50,"y":-0.91},{"m":"S + E-PNN","s":"a","x":100,"y":-0.68},{"m":"S + E-PNN","s":"a","x":150,"y":-0.445},{"m":"S + E-PNN","s":"a","x":200,"y":-0.44},{"m":"S + E-PNN","s":"a","x":250,"y":-0.42},{"m":"S + E-PNN","s":"a","x":300,"y":-0.41},{"m":"S + E-PNN","s":"a","x":350,"y":-0.41},{"m":"S + E-PNN","s":"a","x":400,"y":-0.405},{"m":"S + E-PNN","s":"a","x":450,"y":-0.4},{"m":"S + E-PNN","s":"a","x":500,"y":-0.395},{"m":"S + E-PNN","s":"a","x":550,"y":-0.395},{"m":"S + E-PNN","s":"a","x":600,"y":-0.388},{"m":"S + E-PNN","s":"a","x":650,"y":-0.386},{"m":"S + E-PNN","s":"a","x":700,"y":-0.386},{"m":"S + E-PNN","s":"a","x":750,"y":-0.385},
{"m":"S + GP","s":"a","x":0,"y":-1},{"m":"S + GP","s":"a","x":50,"y":-0.9},{"m":"S + GP","s":"a","x":100,"y":-0.63},{"m":"S + GP","s":"a","x":150,"y":-0.59},{"m":"S + GP","s":"a","x":200,"y":-0.57},{"m":"S + GP","s":"a","x":250,"y":-0.506},{"m":"S + GP","s":"a","x":300,"y":-0.494},{"m":"S + GP","s":"a","x":350,"y":-0.49},{"m":"S + GP","s":"a","x":400,"y":-0.48},{"m":"S + GP","s":"a","x":450,"y":-0.475},{"m":"S + GP","s":"a","x":500,"y":-0.47},{"m":"S + GP","s":"a","x":550,"y":-0.465},{"m":"S + GP","s":"a","x":600,"y":-0.457},{"m":"S + GP","s":"a","x":650,"y":-0.452},{"m":"S + GP","s":"a","x":700,"y":-0.452},{"m":"S + GP","s":"a","x":750,"y":-0.445},
{"m":"PF + E-PNN","s":"a","x":0,"y":-1},{"m":"PF + E-PNN","s":"a","x":50,"y":-0.95},{"m":"PF + E-PNN","s":"a","x":100,"y":-0.79},{"m":"PF + E-PNN","s":"a","x":150,"y":-0.654},{"m":"PF + E-PNN","s":"a","x":200,"y":-0.58},{"m":"PF + E-PNN","s":"a","x":250,"y":-0.543},{"m":"PF + E-PNN","s":"a","x":300,"y":-0.535},{"m":"PF + E-PNN","s":"a","x":350,"y":-0.52},{"m":"PF + E-PNN","s":"a","x":400,"y":-0.51},{"m":"PF + E-PNN","s":"a","x":450,"y":-0.5},{"m":"PF + E-PNN","s":"a","x":500,"y":-0.48},{"m":"PF + E-PNN","s":"a","x":550,"y":-0.477},{"m":"PF + E-PNN","s":"a","x":600,"y":-0.47},{"m":"PF + E-PNN","s":"a","x":650,"y":-0.465},{"m":"PF + E-PNN","s":"a","x":700,"y":-0.465},{"m":"PF + E-PNN","s":"a","x":750,"y":-0.457},
{"m":"S + DGCN","s":"h","x":0,"y":-1},{"m":"S + DGCN","s":"h","x":50,"y":-0.78},{"m":"S + DGCN","s":"h","x":100,"y":-0.45},{"m":"S + DGCN","s":"h","x":150,"y":-0.43},{"m":"S + DGCN","s":"h","x":200,"y":-0.42},{"m":"S + DGCN","s":"h","x":250,"y":-0.41},{"m":"S + DGCN","s":"h","x":300,"y":-0.395},{"m":"S + DGCN","s":"h","x":400,"y":-0.39},{"m":"S + DGCN","s":"h","x":500,"y":-0.385},{"m":"S + DGCN","s":"h","x":600,"y":-0.383},{"m":"S + DGCN","s":"h","x":750,"y":-0.382},
{"m":"S + DGCN","s":"l","x":0,"y":-1},{"m":"S + DGCN","s":"l","x":50,"y":-0.9},{"m":"S + DGCN","s":"l","x":100,"y":-0.52},{"m":"S + DGCN","s":"l","x":150,"y":-0.5},{"m":"S + DGCN","s":"l","x":200,"y":-0.47},{"m":"S + DGCN","s":"l","x":250,"y":-0.46},{"m":"S + DGCN","s":"l","x":300,"y":-0.45},{"m":"S + DGCN","s":"l","x":400,"y":-0.44},{"m":"S + DGCN","s":"l","x":500,"y":-0.43},{"m":"S + DGCN","s":"l","x":600,"y":-0.42},{"m":"S + DGCN","s":"l","x":750,"y":-0.41},
{"m":"S + E-PNN","s":"h","x":0,"y":-1},{"m":"S + E-PNN","s":"h","x":50,"y":-0.88},{"m":"S + E-PNN","s":"h","x":100,"y":-0.6},{"m":"S + E-PNN","s":"h","x":150,"y":-0.42},{"m":"S + E-PNN","s":"h","x":200,"y":-0.41},{"m":"S + E-PNN","s":"h","x":250,"y":-0.4},{"m":"S + E-PNN","s":"h","x":300,"y":-0.39},{"m":"S + E-PNN","s":"h","x":400,"y":-0.383},{"m":"S + E-PNN","s":"h","x":500,"y":-0.38},{"m":"S + E-PNN","s":"h","x":600,"y":-0.378},{"m":"S + E-PNN","s":"h","x":750,"y":-0.377},
{"m":"S + E-PNN","s":"l","x":0,"y":-1},{"m":"S + E-PNN","s":"l","x":50,"y":-0.94},{"m":"S + E-PNN","s":"l","x":100,"y":-0.75},{"m":"S + E-PNN","s":"l","x":150,"y":-0.48},{"m":"S + E-PNN","s":"l","x":200,"y":-0.46},{"m":"S + E-PNN","s":"l","x":250,"y":-0.45},{"m":"S + E-PNN","s":"l","x":300,"y":-0.44},{"m":"S + E-PNN","s":"l","x":400,"y":-0.43},{"m":"S + E-PNN","s":"l","x":500,"y":-0.42},{"m":"S + E-PNN","s":"l","x":600,"y":-0.41},{"m":"S + E-PNN","s":"l","x":750,"y":-0.4},
{"m":"S + GP","s":"h","x":0,"y":-1},{"m":"S + GP","s":"h","x":50,"y":-0.75},{"m":"S + GP","s":"h","x":100,"y":-0.55},{"m":"S + GP","s":"h","x":150,"y":-0.52},{"m":"S + GP","s":"h","x":200,"y":-0.5},{"m":"S + GP","s":"h","x":250,"y":-0.48},{"m":"S + GP","s":"h","x":300,"y":-0.47},{"m":"S + GP","s":"h","x":400,"y":-0.46},{"m":"S + GP","s":"h","x":500,"y":-0.45},{"m":"S + GP","s":"h","x":600,"y":-0.445},{"m":"S + GP","s":"h","x":750,"y":-0.435},
{"m":"S + GP","s":"l","x":0,"y":-1},{"m":"S + GP","s":"l","x":50,"y":-0.85},{"m":"S + GP","s":"l","x":100,"y":-0.7},{"m":"S + GP","s":"l","x":150,"y":-0.62},{"m":"S + GP","s":"l","x":200,"y":-0.6},{"m":"S + GP","s":"l","x":250,"y":-0.58},{"m":"S + GP","s":"l","x":300,"y":-0.56},{"m":"S + GP","s":"l","x":400,"y":-0.54},{"m":"S + GP","s":"l","x":500,"y":-0.52},{"m":"S + GP","s":"l","x":600,"y":-0.5},{"m":"S + GP","s":"l","x":750,"y":-0.47},
{"m":"PILCO","s":"h","x":0,"y":-1},{"m":"PILCO","s":"h","x":50,"y":-0.88},{"m":"PILCO","s":"h","x":100,"y":-0.62},{"m":"PILCO","s":"h","x":150,"y":-0.55},{"m":"PILCO","s":"h","x":200,"y":-0.53},{"m":"PILCO","s":"h","x":250,"y":-0.52},{"m":"PILCO","s":"h","x":300,"y":-0.51},{"m":"PILCO","s":"h","x":400,"y":-0.5},{"m":"PILCO","s":"h","x":500,"y":-0.49},{"m":"PILCO","s":"h","x":600,"y":-0.48},{"m":"PILCO","s":"h","x":750,"y":-0.465},
{"m":"PILCO","s":"l","x":0,"y":-1},{"m":"PILCO","s":"l","x":50,"y":-0.96},{"m":"PILCO","s":"l","x":100,"y":-0.85},{"m":"PILCO","s":"l","x":150,"y":-0.78},{"m":"PILCO","s":"l","x":200,"y":-0.72},{"m":"PILCO","s":"l","x":250,"y":-0.7},{"m":"PILCO","s":"l","x":300,"y":-0.68},{"m":"PILCO","s":"l","x":400,"y":-0.66},{"m":"PILCO","s":"l","x":500,"y":-0.645},{"m":"PILCO","s":"l","x":600,"y":-0.64},{"m":"PILCO","s":"l","x":650,"y":-0.6},{"m":"PILCO","s":"l","x":750,"y":-0.59},
{"m":"PF + DGCN","s":"h","x":0,"y":-1},{"m":"PF + DGCN","s":"h","x":50,"y":-0.92},{"m":"PF + DGCN","s":"h","x":100,"y":-0.78},{"m":"PF + DGCN","s":"h","x":150,"y":-0.66},{"m":"PF + DGCN","s":"h","x":200,"y":-0.6},{"m":"PF + DGCN","s":"h","x":250,"y":-0.56},{"m":"PF + DGCN","s":"h","x":300,"y":-0.53},{"m":"PF + DGCN","s":"h","x":400,"y":-0.51},{"m":"PF + DGCN","s":"h","x":500,"y":-0.5},{"m":"PF + DGCN","s":"h","x":600,"y":-0.49},{"m":"PF + DGCN","s":"h","x":750,"y":-0.47},
{"m":"PF + DGCN","s":"l","x":0,"y":-1},{"m":"PF + DGCN","s":"l","x":50,"y":-0.96},{"m":"PF + DGCN","s":"l","x":100,"y":-0.9},{"m":"PF + DGCN","s":"l","x":150,"y":-0.8},{"m":"PF + DGCN","s":"l","x":200,"y":-0.72},{"m":"PF + DGCN","s":"l","x":250,"y":-0.7},{"m":"PF + DGCN","s":"l","x":300,"y":-0.68},{"m":"PF + DGCN","s":"l","x":400,"y":-0.64},{"m":"PF + DGCN","s":"l","x":500,"y":-0.6},{"m":"PF + DGCN","s":"l","x":600,"y":-0.6},{"m":"PF + DGCN","s":"l","x":700,"y":-0.58},{"m":"PF + DGCN","s":"l","x":750,"y":-0.54},
{"m":"PF + E-PNN","s":"h","x":0,"y":-1},{"m":"PF + E-PNN","s":"h","x":50,"y":-0.92},{"m":"PF + E-PNN","s":"h","x":100,"y":-0.8},{"m":"PF + E-PNN","s":"h","x":150,"y":-0.65},{"m":"PF + E-PNN","s":"h","x":200,"y":-0.55},{"m":"PF + E-PNN","s":"h","x":250,"y":-0.5},{"m":"PF + E-PNN","s":"h","x":300,"y":-0.48},{"m":"PF + E-PNN","s":"h","x":400,"y":-0.46},{"m":"PF + E-PNN","s":"h","x":500,"y":-0.45},{"m":"PF + E-PNN","s":"h","x":600,"y":-0.44},{"m":"PF + E-PNN","s":"h","x":750,"y":-0.435},
{"m":"PF + E-PNN","s":"l","x":0,"y":-1},{"m":"PF + E-PNN","s":"l","x":50,"y":-0.97},{"m":"PF + E-PNN","s":"l","x":100,"y":-0.88},{"m":"PF + E-PNN","s":"l","x":150,"y":-0.78},{"m":"PF + E-PNN","s":"l","x":200,"y":-0.7},{"m":"PF + E-PNN","s":"l","x":250,"y":-0.68},{"m":"PF + E-PNN","s":"l","x":300,"y":-0.66},{"m":"PF + E-PNN","s":"l","x":400,"y":-0.62},{"m":"PF + E-PNN","s":"l","x":500,"y":-0.58},{"m":"PF + E-PNN","s":"l","x":600,"y":-0.53},{"m":"PF + E-PNN","s":"l","x":750,"y":-0.5}
]
},
"title":{"text":"Fig. 2. Results of benchmarked tasks.","orient":"bottom","anchor":"start","fontSize":9.5,"offset":2},
"resolve":{"scale":{"color":"independent"},"legend":{"color":"independent"}},
"spacing":0,
"vconcat":[
{"hconcat":[
{"title":{"text":"(a) Results for inverted pendulum swing up (IPSU) task","orient":"bottom","anchor":"middle","fontSize":9.5,"offset":3},
"resolve":{"scale":{"color":"independent"},"legend":{"color":"independent"}},
"vconcat":[{
"title":"Inverted Pendulum Swing Up","width":260,"height":98,
"layer":[
{"data":{"name":"ipsu"},"transform":[{"filter":"datum.s != 'a'"}],"mark":{"type":"line","strokeDash":[3,2],"strokeWidth":0.9,"opacity":0.8,"interpolate":"monotone"},
"encoding":{"x":{"field":"x","type":"quantitative","title":"Training samples","scale":{"domain":[-87,3135],"nice":false,"zero":false},"axis":{"values":[0,500,1000,1500,2000,2500,3000],"format":"d","labelOverlap":false,"labelFlush":false,"ticks":false,"tickSize":0,"domain":false,"labelFont":"Liberation Serif","labelFontSize":10,"titleFont":"Liberation Serif","titleFontSize":10.5,"titleFontWeight":"normal","labelPadding":2,"titlePadding":1,"labelColor":"#000","titleColor":"#000","gridColor":"#e4e4e4"}},"y":{"field":"y","type":"quantitative","title":"Reward","scale":{"domain":[-1.036,-0.148],"nice":false,"zero":false},"axis":{"values":[-1,-0.8,-0.6,-0.4,-0.2],"format":".1f","labelOverlap":false,"labelFlush":false,"ticks":false,"tickSize":0,"domain":false,"labelFont":"Liberation Serif","labelFontSize":10,"titleFont":"Liberation Serif","titleFontSize":10.5,"titleFontWeight":"normal","labelPadding":2,"titlePadding":4,"labelColor":"#000","titleColor":"#000","gridColor":"#e4e4e4"}},"color":{"field":"m","type":"nominal","legend":{"title":null,"orient":"none","legendX":15,"legendY":119,"offset":0,"direction":"horizontal","columns":3,"gridAlign":"each","symbolType":"M-2.2,0H2.2","symbolSize":64,"symbolStrokeWidth":4.5,"symbolOpacity":1,"symbolOffset":3,"labelOffset":9,"labelFont":"Liberation Serif","labelFontSize":10,"labelColor":"#000","strokeColor":"#d0d0d0","fillColor":"white","cornerRadius":3,"padding":3,"columnPadding":3,"rowPadding":0},"scale":{"domain":["S + DGCN","PILCO","PF + DGCN","S + E-PNN","S + GP","PF + E-PNN"],"range":["#008000","#1414ff","#b22222","#9400d3","#ffa500","#0b8b8b"]}},"detail":{"field":"s"}}},
{"data":{"name":"ipsu"},"transform":[{"filter":"datum.s == 'a'"}],"mark":{"type":"line","strokeWidth":1.4,"point":{"filled":true,"size":13}},
"encoding":{"x":{"field":"x","type":"quantitative","title":"Training samples","axis":{"values":[0,500,1000,1500,2000,2500,3000],"format":"d","labelOverlap":false,"labelFlush":false,"ticks":false,"tickSize":0,"domain":false,"labelFont":"Liberation Serif","labelFontSize":10,"titleFont":"Liberation Serif","titleFontSize":10.5,"titleFontWeight":"normal","labelPadding":2,"titlePadding":1,"labelColor":"#000","titleColor":"#000","gridColor":"#e4e4e4"}},"y":{"field":"y","type":"quantitative","title":"Reward","axis":{"values":[-1,-0.8,-0.6,-0.4,-0.2],"format":".1f","labelOverlap":false,"labelFlush":false,"ticks":false,"tickSize":0,"domain":false,"labelFont":"Liberation Serif","labelFontSize":10,"titleFont":"Liberation Serif","titleFontSize":10.5,"titleFontWeight":"normal","labelPadding":2,"titlePadding":4,"labelColor":"#000","titleColor":"#000","gridColor":"#e4e4e4"}},"color":{"field":"m","type":"nominal","legend":null}}},
{"data":{"values":[{"y":-0.193}]},"encoding":{"y":{"field":"y","type":"quantitative","title":"Reward","axis":{"values":[-1,-0.8,-0.6,-0.4,-0.2],"format":".1f","labelOverlap":false,"labelFlush":false,"ticks":false,"tickSize":0,"domain":false,"labelFont":"Liberation Serif","labelFontSize":10,"titleFont":"Liberation Serif","titleFontSize":10.5,"titleFontWeight":"normal","labelPadding":2,"titlePadding":4,"labelColor":"#000","titleColor":"#000","gridColor":"#e4e4e4"}}},"layer":[
{"mark":{"type":"rule","strokeDash":[1.5,1.5],"color":"#222","strokeWidth":1.2}},
{"mark":{"type":"text","align":"left","baseline":"top","dy":2,"font":"Liberation Serif","fontSize":10},"encoding":{"x":{"datum":0,"type":"quantitative","title":"Training samples","axis":{"values":[0,500,1000,1500,2000,2500,3000],"format":"d","labelOverlap":false,"labelFlush":false,"ticks":false,"tickSize":0,"domain":false,"labelFont":"Liberation Serif","labelFontSize":10,"titleFont":"Liberation Serif","titleFontSize":10.5,"titleFontWeight":"normal","labelPadding":2,"titlePadding":1,"labelColor":"#000","titleColor":"#000","gridColor":"#e4e4e4"}},"text":{"value":"Max. reward"}}}]}
]}]},
{"title":{"text":"(b) Results for inverted double pendulum (IDP) task","orient":"bottom","anchor":"middle","fontSize":9.5,"offset":3},
"resolve":{"scale":{"color":"independent"},"legend":{"color":"independent"}},
"vconcat":[{
"title":"Inverted Double Pendulum","width":270,"height":98,
"layer":[
{"data":{"name":"idp"},"transform":[{"filter":"datum.s != 'a'"}],"mark":{"type":"line","strokeDash":[3,2],"strokeWidth":0.9,"opacity":0.8},
"encoding":{"x":{"field":"x","type":"quantitative","title":"Iteration","scale":{"domain":[-0.87,15.62],"nice":false,"zero":false},"axis":{"values":[0,1,2,3,4,5,6,7,8,9,10,11,12,13,14,15],"format":"d","labelOverlap":false,"labelFlush":false,"ticks":false,"tickSize":0,"domain":false,"labelFont":"Liberation Serif","labelFontSize":10,"titleFont":"Liberation Serif","titleFontSize":10.5,"titleFontWeight":"normal","labelPadding":2,"titlePadding":1,"labelColor":"#000","titleColor":"#000","gridColor":"#e4e4e4"}},"y":{"field":"y","type":"quantitative","title":"Reward","scale":{"domain":[-1.054,0.065],"nice":false,"zero":false},"axis":{"values":[-1,-0.75,-0.5,-0.25,0],"format":".2f","labelOverlap":false,"labelFlush":false,"ticks":false,"tickSize":0,"domain":false,"labelFont":"Liberation Serif","labelFontSize":10,"titleFont":"Liberation Serif","titleFontSize":10.5,"titleFontWeight":"normal","labelPadding":2,"titlePadding":2,"labelColor":"#000","titleColor":"#000","gridColor":"#e4e4e4"}},"color":{"field":"m","type":"nominal","legend":{"title":null,"orient":"none","legendX":20,"legendY":119,"offset":0,"direction":"horizontal","columns":3,"gridAlign":"each","symbolType":"M-2.2,0H2.2","symbolSize":64,"symbolStrokeWidth":4.5,"symbolOpacity":1,"symbolOffset":3,"labelOffset":9,"labelFont":"Liberation Serif","labelFontSize":10,"labelColor":"#000","strokeColor":"#d0d0d0","fillColor":"white","cornerRadius":3,"padding":3,"columnPadding":3,"rowPadding":0},"scale":{"domain":["S + DGCN","PILCO","PF + DGCN","S + E-PNN","S + GP","PF + E-PNN"],"range":["#008000","#1414ff","#b22222","#9400d3","#ffa500","#0b8b8b"]}},"detail":{"field":"s"}}},
{"data":{"name":"idp"},"transform":[{"filter":"datum.s == 'a'"}],"mark":{"type":"line","strokeWidth":1.4,"point":{"filled":true,"size":13}},
"encoding":{"x":{"field":"x","type":"quantitative","title":"Iteration","axis":{"values":[0,1,2,3,4,5,6,7,8,9,10,11,12,13,14,15],"format":"d","labelOverlap":false,"labelFlush":false,"ticks":false,"tickSize":0,"domain":false,"labelFont":"Liberation Serif","labelFontSize":10,"titleFont":"Liberation Serif","titleFontSize":10.5,"titleFontWeight":"normal","labelPadding":2,"titlePadding":1,"labelColor":"#000","titleColor":"#000","gridColor":"#e4e4e4"}},"y":{"field":"y","type":"quantitative","title":"Reward","axis":{"values":[-1,-0.75,-0.5,-0.25,0],"format":".2f","labelOverlap":false,"labelFlush":false,"ticks":false,"tickSize":0,"domain":false,"labelFont":"Liberation Serif","labelFontSize":10,"titleFont":"Liberation Serif","titleFontSize":10.5,"titleFontWeight":"normal","labelPadding":2,"titlePadding":2,"labelColor":"#000","titleColor":"#000","gridColor":"#e4e4e4"}},"color":{"field":"m","type":"nominal","legend":null}}},
{"data":{"values":[{"y":0}]},"encoding":{"y":{"field":"y","type":"quantitative","title":"Reward","axis":{"values":[-1,-0.75,-0.5,-0.25,0],"format":".2f","labelOverlap":false,"labelFlush":false,"ticks":false,"tickSize":0,"domain":false,"labelFont":"Liberation Serif","labelFontSize":10,"titleFont":"Liberation Serif","titleFontSize":10.5,"titleFontWeight":"normal","labelPadding":2,"titlePadding":2,"labelColor":"#000","titleColor":"#000","gridColor":"#e4e4e4"}}},"layer":[
{"mark":{"type":"rule","strokeDash":[1.5,1.5],"color":"#222","strokeWidth":1.2}},
{"mark":{"type":"text","align":"left","baseline":"top","dy":2,"font":"Liberation Serif","fontSize":10},"encoding":{"x":{"datum":0,"type":"quantitative","title":"Iteration","axis":{"values":[0,1,2,3,4,5,6,7,8,9,10,11,12,13,14,15],"format":"d","labelOverlap":false,"labelFlush":false,"ticks":false,"tickSize":0,"domain":false,"labelFont":"Liberation Serif","labelFontSize":10,"titleFont":"Liberation Serif","titleFontSize":10.5,"titleFontWeight":"normal","labelPadding":2,"titlePadding":1,"labelColor":"#000","titleColor":"#000","gridColor":"#e4e4e4"}},"text":{"value":"Max. reward"}}}]}
]}]}
],"spacing":7,"resolve":{"scale":{"color":"independent"},"legend":{"color":"independent"}}},
{"hconcat":[
{"title":{"text":"(c) Results for continuous mountain car (CMC) task","orient":"bottom","anchor":"middle","fontSize":9.5,"offset":3},
"resolve":{"scale":{"color":"independent"},"legend":{"color":"independent"}},
"vconcat":[{
"title":"Continuous Mountain Car","width":260,"height":103,
"layer":[
{"data":{"name":"cmc"},"transform":[{"filter":"datum.s != 'a'"}],"mark":{"type":"line","strokeDash":[3,2],"strokeWidth":0.9,"opacity":0.8},
"encoding":{"x":{"field":"x","type":"quantitative","title":"Training samples","scale":{"domain":[-20,760],"nice":false,"zero":false},"axis":{"values":[0,50,100,150,200,250,300,350,400,450,500,550,600,650,700,750],"format":"d","labelOverlap":false,"labelFlush":false,"ticks":false,"tickSize":0,"domain":false,"labelFont":"Liberation Serif","labelFontSize":10,"titleFont":"Liberation Serif","titleFontSize":10.5,"titleFontWeight":"normal","labelPadding":2,"titlePadding":1,"labelColor":"#000","titleColor":"#000","gridColor":"#e4e4e4"}},"y":{"field":"y","type":"quantitative","title":"Reward","scale":{"domain":[-1.034,-0.445],"nice":false,"zero":false},"axis":{"values":[-1,-0.8,-0.6],"format":".1f","labelOverlap":false,"labelFlush":false,"ticks":false,"tickSize":0,"domain":false,"labelFont":"Liberation Serif","labelFontSize":10,"titleFont":"Liberation Serif","titleFontSize":10.5,"titleFontWeight":"normal","labelPadding":2,"titlePadding":4,"labelColor":"#000","titleColor":"#000","gridColor":"#e4e4e4"}},"color":{"field":"m","type":"nominal","legend":{"title":null,"orient":"none","legendX":15,"legendY":120,"offset":0,"direction":"horizontal","columns":3,"gridAlign":"each","symbolType":"M-2.2,0H2.2","symbolSize":64,"symbolStrokeWidth":4.5,"symbolOpacity":1,"symbolOffset":3,"labelOffset":9,"labelFont":"Liberation Serif","labelFontSize":10,"labelColor":"#000","strokeColor":"#d0d0d0","fillColor":"white","cornerRadius":3,"padding":3,"columnPadding":3,"rowPadding":0},"scale":{"domain":["S + DGCN","PILCO","PF + DGCN","S + E-PNN","S + GP","PF + E-PNN"],"range":["#008000","#1414ff","#b22222","#9400d3","#ffa500","#0b8b8b"]}},"detail":{"field":"s"}}},
{"data":{"name":"cmc"},"transform":[{"filter":"datum.s == 'a'"}],"mark":{"type":"line","strokeWidth":1.4,"point":{"filled":true,"size":13}},
"encoding":{"x":{"field":"x","type":"quantitative","title":"Training samples","axis":{"values":[0,50,100,150,200,250,300,350,400,450,500,550,600,650,700,750],"format":"d","labelOverlap":false,"labelFlush":false,"ticks":false,"tickSize":0,"domain":false,"labelFont":"Liberation Serif","labelFontSize":10,"titleFont":"Liberation Serif","titleFontSize":10.5,"titleFontWeight":"normal","labelPadding":2,"titlePadding":1,"labelColor":"#000","titleColor":"#000","gridColor":"#e4e4e4"}},"y":{"field":"y","type":"quantitative","title":"Reward","axis":{"values":[-1,-0.8,-0.6],"format":".1f","labelOverlap":false,"labelFlush":false,"ticks":false,"tickSize":0,"domain":false,"labelFont":"Liberation Serif","labelFontSize":10,"titleFont":"Liberation Serif","titleFontSize":10.5,"titleFontWeight":"normal","labelPadding":2,"titlePadding":4,"labelColor":"#000","titleColor":"#000","gridColor":"#e4e4e4"}},"color":{"field":"m","type":"nominal","legend":null}}},
{"data":{"values":[{"y":-0.455}]},"encoding":{"y":{"field":"y","type":"quantitative","title":"Reward","axis":{"values":[-1,-0.8,-0.6],"format":".1f","labelOverlap":false,"labelFlush":false,"ticks":false,"tickSize":0,"domain":false,"labelFont":"Liberation Serif","labelFontSize":10,"titleFont":"Liberation Serif","titleFontSize":10.5,"titleFontWeight":"normal","labelPadding":2,"titlePadding":4,"labelColor":"#000","titleColor":"#000","gridColor":"#e4e4e4"}}},"layer":[
{"mark":{"type":"rule","strokeDash":[1.5,1.5],"color":"#222","strokeWidth":1.2}},
{"mark":{"type":"text","align":"left","baseline":"top","dy":2,"font":"Liberation Serif","fontSize":10},"encoding":{"x":{"datum":0,"type":"quantitative","title":"Training samples","axis":{"values":[0,50,100,150,200,250,300,350,400,450,500,550,600,650,700,750],"format":"d","labelOverlap":false,"labelFlush":false,"ticks":false,"tickSize":0,"domain":false,"labelFont":"Liberation Serif","labelFontSize":10,"titleFont":"Liberation Serif","titleFontSize":10.5,"titleFontWeight":"normal","labelPadding":2,"titlePadding":1,"labelColor":"#000","titleColor":"#000","gridColor":"#e4e4e4"}},"text":{"value":"Max. reward"}}}]}
]}]},
{"title":{"text":"(d) Results for pendulum (P) task","orient":"bottom","anchor":"middle","fontSize":9.5,"offset":3},
"resolve":{"scale":{"color":"independent"},"legend":{"color":"independent"}},
"vconcat":[{
"title":"Pendulum","width":270,"height":103,
"layer":[
{"data":{"name":"pend"},"transform":[{"filter":"datum.s != 'a'"}],"mark":{"type":"line","strokeDash":[3,2],"strokeWidth":0.9,"opacity":0.8},
"encoding":{"x":{"field":"x","type":"quantitative","title":"Training samples","scale":{"domain":[-34,770],"nice":false,"zero":false},"axis":{"values":[0,50,100,150,200,250,300,350,400,450,500,550,600,650,700,750],"format":"d","labelOverlap":false,"labelFlush":false,"ticks":false,"tickSize":0,"domain":false,"labelFont":"Liberation Serif","labelFontSize":10,"titleFont":"Liberation Serif","titleFontSize":10.5,"titleFontWeight":"normal","labelPadding":2,"titlePadding":1,"labelColor":"#000","titleColor":"#000","gridColor":"#e4e4e4"}},"y":{"field":"y","type":"quantitative","title":"Reward","scale":{"domain":[-1.06,-0.296],"nice":false,"zero":false},"axis":{"values":[-1,-0.8,-0.6,-0.4],"format":".1f","labelOverlap":false,"labelFlush":false,"ticks":false,"tickSize":0,"domain":false,"labelFont":"Liberation Serif","labelFontSize":10,"titleFont":"Liberation Serif","titleFontSize":10.5,"titleFontWeight":"normal","labelPadding":2,"titlePadding":8,"labelColor":"#000","titleColor":"#000","gridColor":"#e4e4e4"}},"color":{"field":"m","type":"nominal","legend":{"title":null,"orient":"none","legendX":20,"legendY":120,"offset":0,"direction":"horizontal","columns":3,"gridAlign":"each","symbolType":"M-2.2,0H2.2","symbolSize":64,"symbolStrokeWidth":4.5,"symbolOpacity":1,"symbolOffset":3,"labelOffset":9,"labelFont":"Liberation Serif","labelFontSize":10,"labelColor":"#000","strokeColor":"#d0d0d0","fillColor":"white","cornerRadius":3,"padding":3,"columnPadding":3,"rowPadding":0},"scale":{"domain":["S + DGCN","PILCO","PF + DGCN","S + E-PNN","S + GP","PF + E-PNN"],"range":["#008000","#1414ff","#b22222","#9400d3","#ffa500","#0b8b8b"]}},"detail":{"field":"s"}}},
{"data":{"name":"pend"},"transform":[{"filter":"datum.s == 'a'"}],"mark":{"type":"line","strokeWidth":1.4,"point":{"filled":true,"size":13}},
"encoding":{"x":{"field":"x","type":"quantitative","title":"Training samples","axis":{"values":[0,50,100,150,200,250,300,350,400,450,500,550,600,650,700,750],"format":"d","labelOverlap":false,"labelFlush":false,"ticks":false,"tickSize":0,"domain":false,"labelFont":"Liberation Serif","labelFontSize":10,"titleFont":"Liberation Serif","titleFontSize":10.5,"titleFontWeight":"normal","labelPadding":2,"titlePadding":1,"labelColor":"#000","titleColor":"#000","gridColor":"#e4e4e4"}},"y":{"field":"y","type":"quantitative","title":"Reward","axis":{"values":[-1,-0.8,-0.6,-0.4],"format":".1f","labelOverlap":false,"labelFlush":false,"ticks":false,"tickSize":0,"domain":false,"labelFont":"Liberation Serif","labelFontSize":10,"titleFont":"Liberation Serif","titleFontSize":10.5,"titleFontWeight":"normal","labelPadding":2,"titlePadding":8,"labelColor":"#000","titleColor":"#000","gridColor":"#e4e4e4"}},"color":{"field":"m","type":"nominal","legend":null}}},
{"data":{"values":[{"y":-0.35}]},"encoding":{"y":{"field":"y","type":"quantitative","title":"Reward","axis":{"values":[-1,-0.8,-0.6,-0.4],"format":".1f","labelOverlap":false,"labelFlush":false,"ticks":false,"tickSize":0,"domain":false,"labelFont":"Liberation Serif","labelFontSize":10,"titleFont":"Liberation Serif","titleFontSize":10.5,"titleFontWeight":"normal","labelPadding":2,"titlePadding":8,"labelColor":"#000","titleColor":"#000","gridColor":"#e4e4e4"}}},"layer":[
{"mark":{"type":"rule","strokeDash":[1.5,1.5],"color":"#222","strokeWidth":1.2}},
{"mark":{"type":"text","align":"left","baseline":"top","dy":2,"font":"Liberation Serif","fontSize":10},"encoding":{"x":{"datum":0,"type":"quantitative","title":"Training samples","axis":{"values":[0,50,100,150,200,250,300,350,400,450,500,550,600,650,700,750],"format":"d","labelOverlap":false,"labelFlush":false,"ticks":false,"tickSize":0,"domain":false,"labelFont":"Liberation Serif","labelFontSize":10,"titleFont":"Liberation Serif","titleFontSize":10.5,"titleFontWeight":"normal","labelPadding":2,"titlePadding":1,"labelColor":"#000","titleColor":"#000","gridColor":"#e4e4e4"}},"text":{"value":"Max. reward"}}}]}
]}]}
],"spacing":7,"resolve":{"scale":{"color":"independent"},"legend":{"color":"independent"}}}
]
}
